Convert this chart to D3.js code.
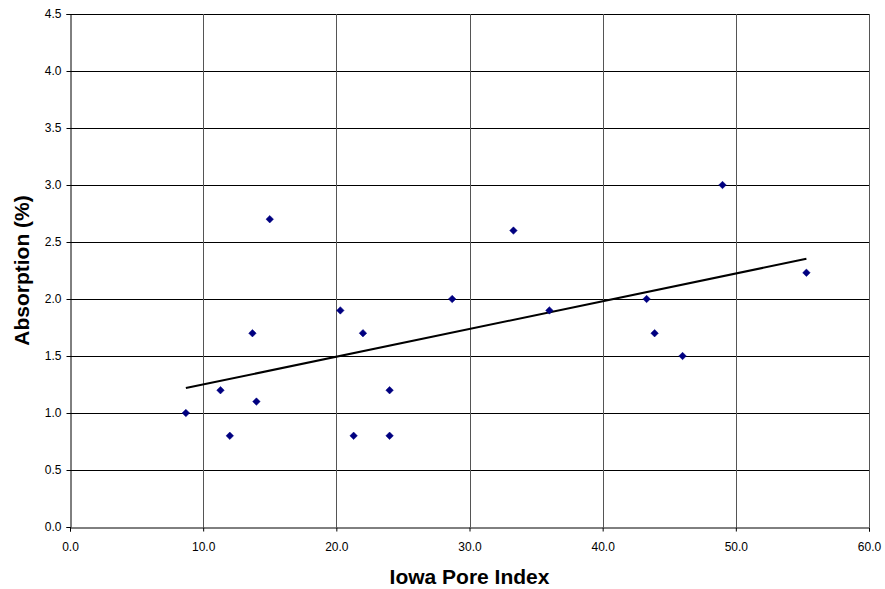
<!DOCTYPE html>
<html><head><meta charset="utf-8">
<script src="https://cdn.jsdelivr.net/npm/d3@7"></script>
<style>body{margin:0;background:#fff}svg{display:block}text{font-family:"Liberation Sans",Arial,sans-serif}</style>
</head><body>
<script>
const poreIndex = [8.7, 11.3, 12.0, 13.7, 14.0, 15.0, 20.3, 22.0, 21.3, 24.0, 24.0, 28.7, 33.3, 36.0, 43.3, 43.9, 46.0, 49.0, 55.3];
const absorption = [1.0, 1.2, 0.8, 1.7, 1.1, 2.7, 1.9, 1.7, 0.8, 1.2, 0.8, 2.0, 2.6, 1.9, 2.0, 1.7, 1.5, 3.0, 2.23];
const xTicks = [0, 10, 20, 30, 40, 50, 60];
const yTicks = [0, 0.5, 1.0, 1.5, 2.0, 2.5, 3.0, 3.5, 4.0, 4.5];
const xTitle = "Iowa Pore Index";
const yTitle = "Absorption (%)";

const W = 885, H = 589;
const m = {left: 70, right: 16, top: 14, bottom: 62};
const svg = d3.select("body").append("svg").attr("width", W).attr("height", H);
const x = d3.scaleLinear().domain([0, 60]).range([m.left, W - m.right]);
const y = d3.scaleLinear().domain([0, 4.5]).range([H - m.bottom, m.top]);

const g = svg.append("g");
// gridlines
g.selectAll(".hg").data(yTicks.filter(d => d > 0)).join("line")
  .attr("x1", x(0)).attr("x2", x(60))
  .attr("y1", d => Math.round(y(d)) + 0.5).attr("y2", d => Math.round(y(d)) + 0.5)
  .attr("stroke", "#000").attr("stroke-width", 1);
g.selectAll(".vg").data(xTicks.filter(d => d > 0)).join("line")
  .attr("y1", y(0)).attr("y2", y(4.5))
  .attr("x1", d => Math.round(x(d)) + 0.5).attr("x2", d => Math.round(x(d)) + 0.5)
  .attr("stroke", "#555").attr("stroke-width", 1);

// axes
const xAxis = d3.axisBottom(x).tickValues(xTicks).tickFormat(d3.format(".1f")).tickSizeOuter(0).tickSize(4).tickPadding(11);
const yAxis = d3.axisLeft(y).tickValues(yTicks).tickFormat(d3.format(".1f")).tickSizeOuter(0).tickSize(4).tickPadding(5);
const gx = svg.append("g").attr("transform", `translate(0,${Math.round(y(0)) + 0.5})`).call(xAxis);
const gy = svg.append("g").attr("transform", `translate(${Math.round(x(0)) + 0.5},0)`).call(yAxis);
[gx, gy].forEach(a => {
  a.select(".domain").attr("stroke", "#000");
  a.selectAll(".tick line").attr("stroke", "#000");
  a.selectAll(".tick text").attr("font-size", 12).attr("fill", "#000").attr("font-family", "Liberation Sans, Arial, sans-serif");
});

// trendline (least squares)
const pts = poreIndex.map((v, i) => [v, absorption[i]]);
const mx = d3.mean(poreIndex), my = d3.mean(absorption);
const slope = d3.sum(pts, p => (p[0] - mx) * (p[1] - my)) / d3.sum(pts, p => (p[0] - mx) ** 2);
const icpt = my - slope * mx;
const [x0, x1] = d3.extent(poreIndex);
svg.append("line")
  .attr("x1", x(x0)).attr("y1", y(icpt + slope * x0))
  .attr("x2", x(x1)).attr("y2", y(icpt + slope * x1))
  .attr("stroke", "#000").attr("stroke-width", 2);

// markers
const diamond = d3.symbol().type(d3.symbolDiamond2).size(36);
svg.selectAll(".pt").data(pts).join("path")
  .attr("d", diamond)
  .attr("transform", d => `translate(${x(d[0])},${y(d[1])})`)
  .attr("fill", "#000080").attr("stroke", "#000080").attr("stroke-width", 0.5);

// titles
svg.append("text").attr("x", (x(0) + x(60)) / 2).attr("y", 584)
  .attr("text-anchor", "middle").attr("font-size", 21).attr("font-weight", "bold").text(xTitle);
svg.append("text").attr("transform", `translate(29,${(y(0) + y(4.5)) / 2}) rotate(-90)`)
  .attr("text-anchor", "middle").attr("font-size", 21).attr("font-weight", "bold").text(yTitle);
</script>
</body></html>
